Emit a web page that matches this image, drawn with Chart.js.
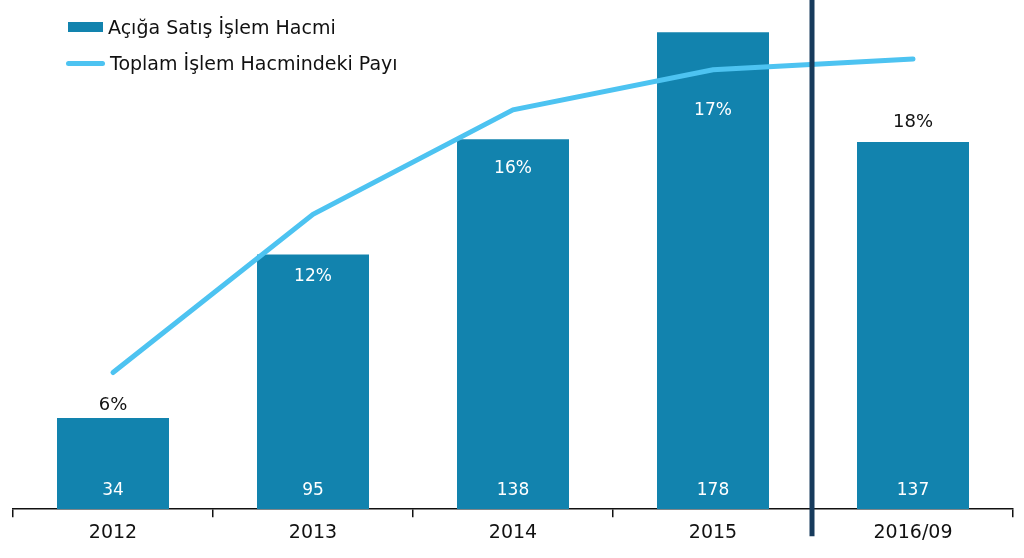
<!DOCTYPE html>
<html>
<head>
<meta charset="utf-8">
<script src="https://cdn.jsdelivr.net/npm/chart.js@4.4.1/dist/chart.umd.min.js"></script>
<style>
    html, body { margin: 0; padding: 0; background: #fff; }
    #wrap { position: relative; width: 1024px; height: 558px; }
    #legend { position: absolute; left: 66px; top: 9px; font-family: "DejaVu Sans", sans-serif; font-size: 19px; color: #111; }
    .lg-row { display: flex; align-items: center; height: 36px; }
    .sw-bar { width: 35px; height: 10px; background: #1283ae; margin: 0 5px 0 2px; }
    .sw-line { width: 39px; height: 5px; border-radius: 3px; background: #4dc3f1; margin-right: 5px; }
</style>
</head>
<body>
<div id="wrap">
    <canvas id="chart" width="1024" height="558"></canvas>
    <div id="legend">
        <div class="lg-row"><span class="sw-bar"></span>Açığa Satış İşlem Hacmi</div>
        <div class="lg-row"><span class="sw-line"></span>Toplam İşlem Hacmindeki Payı</div>
    </div>
</div>
<script>
// Chart data
const years = ['2012', '2013', '2014', '2015', '2016/09'];
const volume = [34, 95, 138, 178, 137];
const share = [6.1, 12.0, 15.9, 17.4, 17.8];
const shareLabels = ['6%', '12%', '16%', '17%', '18%'];

// percentage label distance below the line point
const shareLabelDy = [33, 62, 59, 41, 63];

const FONT = '"DejaVu Sans", sans-serif';

// Draw value labels and percentage labels
const labelPlugin = {
    id: 'labels',
    afterDatasetsDraw(chart) {
        const ctx = chart.ctx;
        const bars = chart.getDatasetMeta(0).data;
        const points = chart.getDatasetMeta(1).data;
        ctx.save();
        ctx.textAlign = 'center';
        ctx.textBaseline = 'middle';
        bars.forEach((bar, i) => {
            ctx.font = '17px ' + FONT;
            ctx.fillStyle = '#ffffff';
            ctx.fillText(volume[i], bar.x, bar.base - 19);
            const y = points[i].y + shareLabelDy[i];
            const inside = y > bar.y;
            ctx.font = (inside ? '17px ' : '18px ') + FONT;
            ctx.fillStyle = inside ? '#ffffff' : '#111111';
            ctx.fillText(shareLabels[i], bar.x, y);
        });
        ctx.restore();
    }
};

// Dark separator before the partial year
const separatorPlugin = {
    id: 'separator',
    afterDraw(chart) {
        const ctx = chart.ctx;
        const x = chart.scales.x;
        const xPos = (x.getPixelForValue(3) + x.getPixelForValue(4)) / 2 - 1;
        ctx.save();
        ctx.strokeStyle = '#173b5c';
        ctx.lineWidth = 5;
        ctx.beginPath();
        ctx.moveTo(xPos, 0);
        ctx.lineTo(xPos, chart.chartArea.bottom + 27);
        ctx.stroke();
        ctx.restore();
    }
};

new Chart(document.getElementById('chart').getContext('2d'), {
    type: 'bar',
    data: {
        labels: years,
        datasets: [{
            type: 'bar',
            label: 'Açığa Satış İşlem Hacmi',
            data: volume,
            backgroundColor: '#1283ae',
            categoryPercentage: 1,
            barPercentage: 0.56,
            yAxisID: 'y',
            order: 2
        }, {
            type: 'line',
            label: 'Toplam İşlem Hacmindeki Payı',
            data: share,
            borderColor: '#4dc3f1',
            borderWidth: 5,
            borderCapStyle: 'round',
            pointRadius: 0,
            tension: 0,
            yAxisID: 'y2',
            order: 1
        }]
    },
    options: {
        responsive: false,
        animation: false,
        layout: { padding: { left: 13, right: 11, top: 0, bottom: 10 } },
        plugins: {
            legend: { display: false },
            tooltip: { enabled: false }
        },
        scales: {
            x: {
                offset: true,
                grid: { display: true, drawOnChartArea: false, offset: true, tickLength: 8, color: '#111', lineWidth: 1.5 },
                border: { color: '#111', width: 1.5 },
                ticks: { color: '#111', font: { family: FONT, size: 19 }, padding: 4 }
            },
            y: { display: false, min: 0, max: 190 },
            y2: { display: false, min: 1, max: 20 }
        }
    },
    plugins: [labelPlugin, separatorPlugin]
});
</script>
</body>
</html>
